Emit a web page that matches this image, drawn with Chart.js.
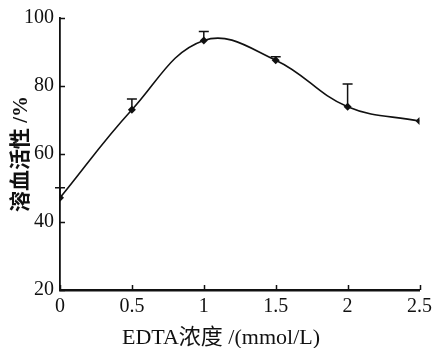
<!DOCTYPE html>
<html>
<head>
<meta charset="utf-8">
<script src="https://cdn.jsdelivr.net/npm/chart.js@4.4.1/dist/chart.umd.min.js"></script>
<style>
  html, body { margin: 0; padding: 0; background: #fff; }
  #wrap { width: 437px; height: 348px; }
</style>
</head>
<body>
<div id="wrap"><canvas id="activityChart"></canvas></div>
<script>
// EDTA浓度对溶血活性的影响

const edtaConc = [0, 0.5, 1, 1.5, 2, 2.5];
const hemolysis = [47.1, 73.0, 93.4, 87.6, 73.9, 69.7];
const errUp = [3.0, 3.2, 2.6, 1.0, 6.7, 0];
const xTicks = [0, 0.5, 1, 1.5, 2, 2.5];
const yTicks = [20, 40, 60, 80, 100];
const xTitle = 'EDTA浓度 /(mmol/L)';
const yTitle = '溶血活性 /%';

const FONT = '"Liberation Serif", "Noto Sans CJK SC", serif';

// 上向きエラーバー + 内向き目盛 + X軸タイトル
const extrasPlugin = {
    id: 'extras',
    afterDatasetsDraw(chart) {
        const ctx = chart.ctx;
        const xs = chart.scales.x;
        const ys = chart.scales.y;
        ctx.save();
        ctx.strokeStyle = '#111';
        ctx.lineWidth = 1.5;
        edtaConc.forEach((x, i) => {
            if (!errUp[i]) return;
            const px = xs.getPixelForValue(x);
            const y0 = ys.getPixelForValue(hemolysis[i]);
            const y1 = ys.getPixelForValue(hemolysis[i] + errUp[i]);
            ctx.beginPath();
            ctx.moveTo(px, y0);
            ctx.lineTo(px, y1);
            ctx.moveTo(px - 5, y1);
            ctx.lineTo(px + 5, y1);
            ctx.stroke();
        });
        ctx.restore();
    },
    afterDraw(chart) {
        const ctx = chart.ctx;
        const xs = chart.scales.x;
        const ys = chart.scales.y;
        const area = chart.chartArea;
        ctx.save();
        ctx.strokeStyle = '#111';
        ctx.lineWidth = 1.5;
        ctx.beginPath();
        xTicks.forEach(v => {
            const px = Math.round(xs.getPixelForValue(v)) + 0.5;
            ctx.moveTo(px, area.bottom);
            ctx.lineTo(px, area.bottom - 5);
        });
        yTicks.forEach(v => {
            const py = Math.round(ys.getPixelForValue(v)) + 0.5;
            ctx.moveTo(area.left, py);
            ctx.lineTo(area.left + 5, py);
        });
        ctx.stroke();

        ctx.fillStyle = '#111';
        ctx.font = '22px ' + FONT;
        ctx.textAlign = 'center';
        ctx.textBaseline = 'middle';
        ctx.fillText(xTitle, 221, 338);
        ctx.restore();
    }
};

const ctx = document.getElementById('activityChart').getContext('2d');

new Chart(ctx, {
    type: 'line',
    data: {
        datasets: [{
            label: yTitle,
            data: edtaConc.map((x, i) => ({ x: x, y: hemolysis[i] })),
            borderColor: '#111',
            backgroundColor: '#111',
            borderWidth: 1.6,
            pointStyle: 'rectRot',
            pointRadius: 4,
            pointBackgroundColor: '#111',
            pointBorderColor: '#111',
            pointBorderWidth: 0,
            tension: 0.4,
            fill: false
        }]
    },
    options: {
        responsive: true,
        maintainAspectRatio: false,
        animation: false,
        layout: {
            padding: { top: 18, right: 16, bottom: 0, left: 0 }
        },
        plugins: {
            legend: { display: false },
            tooltip: { enabled: false }
        },
        scales: {
            x: {
                type: 'linear',
                min: 0,
                max: 2.5,
                afterBuildTicks: scale => {
                    scale.ticks = xTicks.map(v => ({ value: v }));
                },
                afterFit: scale => { scale.height = 58; },
                grid: { display: false, drawTicks: false },
                border: { display: true, color: '#111', width: 2.4 },
                ticks: {
                    color: '#111',
                    padding: 5,
                    maxRotation: 0,
                    font: { family: FONT, size: 20 },
                    callback: v => String(v)
                }
            },
            y: {
                min: 20,
                max: 100,
                afterBuildTicks: scale => {
                    scale.ticks = yTicks.map(v => ({ value: v }));
                },
                afterFit: scale => { scale.width = 60; },
                grid: { display: false, drawTicks: false },
                border: { display: true, color: '#111', width: 1.8 },
                ticks: {
                    color: '#111',
                    padding: 6,
                    font: { family: FONT, size: 20 }
                },
                title: {
                    display: true,
                    text: yTitle,
                    color: '#111',
                    padding: { top: 9, bottom: 0 },
                    font: { family: FONT, size: 21, weight: 'bold' }
                }
            }
        }
    },
    plugins: [extrasPlugin]
});
</script>
</body>
</html>
